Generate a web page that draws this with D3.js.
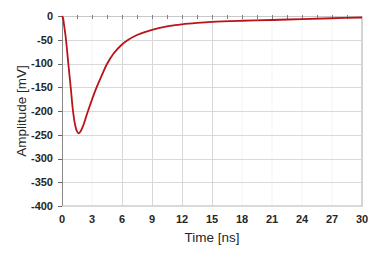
<!DOCTYPE html>
<html>
<head>
<meta charset="utf-8">
<script src="https://cdn.jsdelivr.net/npm/d3@7"></script>
<style>
  html, body { margin: 0; padding: 0; background: #fff; }
  svg { display: block; }
</style>
</head>
<body>
<svg id="chart" width="374" height="254"></svg>
<script>
// Data
const timeNs = [0, 0.1, 0.2, 0.4, 0.63, 0.87, 1.1, 1.3, 1.5, 1.67, 1.85, 2.1, 2.6, 3.0, 3.43, 4.0, 4.5, 5.2, 6.0, 6.63, 7.5, 9, 10.5, 12, 13.5, 15, 18, 21, 24, 27, 30];
const amplitudeMv = [0, -4, -18, -50, -100, -150, -200, -228, -243, -247, -243, -232, -200, -176, -152, -124, -101, -78, -60, -50, -40, -29, -22, -17.5, -14.5, -12.3, -10, -8.4, -6.4, -4.7, -3.2];
const xTicks = [0, 3, 6, 9, 12, 15, 18, 21, 24, 27, 30];
const xMinorTicks = [1.5, 3, 4.5, 6, 7.5, 9, 10.5, 12, 13.5, 15, 16.5, 18, 19.5, 21, 22.5, 24, 25.5, 27, 28.5];
const yTicks = [0, -50, -100, -150, -200, -250, -300, -350, -400];
const strongVGrid = [6, 9, 12, 15];
const faintVGrid = [3, 18, 21, 24, 27];
const xTitle = "Time [ns]";
const yTitle = "Amplitude [mV]";

const svg = d3.select("#chart");
const x = d3.scaleLinear().domain([0, 30]).range([62, 362]);
const y = d3.scaleLinear().domain([-400, 0]).range([206, 16]);

// gridlines
svg.append("g").selectAll("line").data(faintVGrid).join("line")
  .attr("x1", d => x(d)).attr("x2", d => x(d))
  .attr("y1", y(0)).attr("y2", y(-400))
  .attr("stroke", "#f3f3f3").attr("stroke-width", 1);
svg.append("g").selectAll("line").data(strongVGrid).join("line")
  .attr("x1", d => x(d) + 0.5).attr("x2", d => x(d) + 0.5)
  .attr("y1", y(0)).attr("y2", y(-400))
  .attr("stroke", "#d6d6d6").attr("stroke-width", 1);
svg.append("g").selectAll("line").data(yTicks.filter(d => d < 0 && d > -400)).join("line")
  .attr("x1", x(0)).attr("x2", x(30))
  .attr("y1", d => Math.round(y(d)) + 0.5).attr("y2", d => Math.round(y(d)) + 0.5)
  .attr("stroke", "#d9d9d9").attr("stroke-width", 1);

// bottom & right borders
svg.append("line")
  .attr("x1", x(0)).attr("x2", x(30) + 1)
  .attr("y1", y(-400)).attr("y2", y(-400))
  .attr("stroke", "#d9d9d9").attr("stroke-width", 2);
svg.append("line")
  .attr("x1", x(30)).attr("x2", x(30))
  .attr("y1", y(0)).attr("y2", y(-400) + 1)
  .attr("stroke", "#d4d4d4").attr("stroke-width", 2);

// top axis line at y=0 with minor ticks
svg.append("line")
  .attr("x1", x(0)).attr("x2", x(30))
  .attr("y1", y(0) + 0.5).attr("y2", y(0) + 0.5)
  .attr("stroke", "#c8c8c8").attr("stroke-width", 1);
svg.append("g").selectAll("line").data(xMinorTicks).join("line")
  .attr("x1", d => Math.round(x(d)) + 0.5).attr("x2", d => Math.round(x(d)) + 0.5)
  .attr("y1", y(0) - 1).attr("y2", y(0) + 3)
  .attr("stroke", "#808080").attr("stroke-width", 1);

// left axis
svg.append("line")
  .attr("x1", x(0) + 0.5).attr("x2", x(0) + 0.5)
  .attr("y1", y(0)).attr("y2", y(-400))
  .attr("stroke", "#8a8a8a").attr("stroke-width", 1);
svg.append("g").selectAll("line").data(yTicks).join("line")
  .attr("x1", x(0) - 4).attr("x2", x(0))
  .attr("y1", d => Math.round(y(d)) + 0.5).attr("y2", d => Math.round(y(d)) + 0.5)
  .attr("stroke", "#666").attr("stroke-width", 1);

// tick labels
const fontFam = "'Liberation Sans', Arial, sans-serif";
svg.append("g").selectAll("text").data(yTicks).join("text")
  .attr("x", 53).attr("y", d => y(d))
  .attr("dy", "0.35em")
  .attr("text-anchor", "end")
  .attr("font-family", fontFam).attr("font-size", 11).attr("font-weight", "bold")
  .attr("fill", "#262626")
  .text(d => d);
svg.append("g").selectAll("text").data(xTicks).join("text")
  .attr("x", d => x(d)).attr("y", 219.5)
  .attr("dy", "0.35em")
  .attr("text-anchor", "middle")
  .attr("font-family", fontFam).attr("font-size", 11).attr("font-weight", "bold")
  .attr("fill", "#262626")
  .text(d => d);

// axis titles
svg.append("text")
  .attr("x", 212).attr("y", 242)
  .attr("text-anchor", "middle")
  .attr("font-family", fontFam).attr("font-size", 13.5)
  .attr("fill", "#262626")
  .text(xTitle);
svg.append("text")
  .attr("transform", "translate(26,111) rotate(-90)")
  .attr("text-anchor", "middle")
  .attr("font-family", fontFam).attr("font-size", 13.5)
  .attr("fill", "#262626")
  .text(yTitle);

// curve
const line = d3.line()
  .x((d, i) => x(timeNs[i]))
  .y(d => y(d))
  .curve(d3.curveCatmullRom.alpha(0.5));
svg.append("path")
  .datum(amplitudeMv)
  .attr("d", line)
  .attr("fill", "none")
  .attr("stroke", "#b8141a")
  .attr("stroke-width", 1.8)
  .attr("stroke-linejoin", "round");
</script>
</body>
</html>
